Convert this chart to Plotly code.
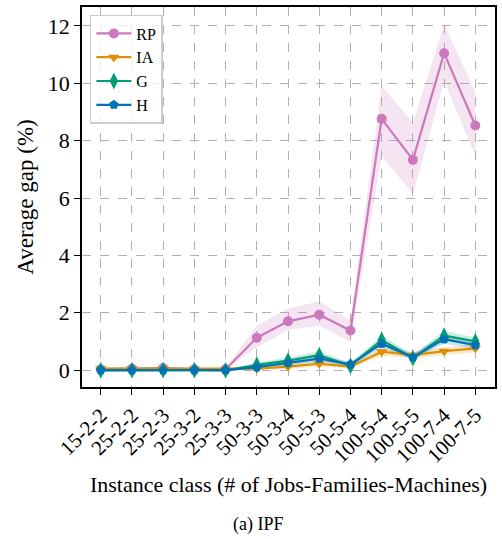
import plotly.graph_objects as go

categories = ["15-2-2", "25-2-2", "25-2-3", "25-3-2", "25-3-3", "50-3-3", "50-3-4",
              "50-5-3", "50-5-4", "100-5-4", "100-5-5", "100-7-4", "100-7-5"]

rp = [0.03, 0.05, 0.07, 0.03, 0.03, 1.13, 1.70, 1.93, 1.38, 8.76, 7.33, 11.05, 8.53]
rp_lo = [0.0, 0.01, 0.02, 0.0, 0.0, 0.80, 1.40, 1.55, 0.98, 7.47, 6.13, 10.07, 7.47]
rp_hi = [0.06, 0.10, 0.12, 0.06, 0.06, 1.55, 2.15, 2.40, 1.73, 9.90, 8.62, 12.06, 9.70]

ia = [0.05, 0.05, 0.05, 0.03, 0.03, 0.05, 0.12, 0.22, 0.12, 0.64, 0.52, 0.66, 0.76]
ia_lo = [0.02, 0.02, 0.02, 0.01, 0.01, 0.01, 0.05, 0.12, 0.06, 0.50, 0.42, 0.52, 0.62]
ia_hi = [0.08, 0.08, 0.08, 0.05, 0.05, 0.10, 0.20, 0.32, 0.18, 0.78, 0.62, 0.80, 0.90]

g = [-0.01, 0.0, 0.0, 0.0, -0.01, 0.18, 0.33, 0.52, 0.15, 1.05, 0.42, 1.20, 1.00]
g_lo = [-0.03, -0.02, -0.02, -0.02, -0.03, 0.10, 0.22, 0.38, 0.08, 0.88, 0.32, 1.02, 0.86]
g_hi = [0.01, 0.02, 0.02, 0.02, 0.01, 0.26, 0.44, 0.66, 0.24, 1.20, 0.55, 1.36, 1.14]

h = [0.0, 0.0, 0.0, 0.0, 0.0, 0.10, 0.25, 0.40, 0.20, 0.92, 0.45, 1.08, 0.87]
h_lo = [-0.02, -0.02, -0.02, -0.02, -0.02, 0.04, 0.16, 0.28, 0.12, 0.78, 0.36, 0.92, 0.74]
h_hi = [0.02, 0.02, 0.02, 0.02, 0.02, 0.16, 0.34, 0.52, 0.28, 1.06, 0.55, 1.24, 1.00]

series = [
    ("RP", rp, rp_lo, rp_hi, "#CC78BC", "rgba(204,120,188,0.2)", "circle"),
    ("IA", ia, ia_lo, ia_hi, "#DE8F05", "rgba(222,143,5,0.2)", "triangle-down"),
    ("G", g, g_lo, g_hi, "#029E73", "rgba(2,158,115,0.2)", "diamond-tall"),
    ("H", h, h_lo, h_hi, "#0173B2", "rgba(1,115,178,0.2)", "pentagon"),
]

xs = list(range(len(categories)))
fig = go.Figure()
for name, vals, lo, hi, col, fcol, sym in series:
    fig.add_trace(go.Scatter(
        x=xs + xs[::-1], y=hi + lo[::-1], fill="toself", fillcolor=fcol,
        line=dict(width=0), mode="lines", showlegend=False, hoverinfo="skip"))
for name, vals, lo, hi, col, fcol, sym in series:
    fig.add_trace(go.Scatter(
        x=xs, y=vals, name=name, mode="lines+markers",
        line=dict(color=col, width=2.2),
        marker=dict(symbol=sym, size=10 if sym != "diamond-tall" else 12, color=col,
                    line=dict(width=0))))

font = "Liberation Serif, Times New Roman, serif"
fig.update_layout(
    width=502, height=539,
    margin=dict(l=82, r=7, t=5, b=152),
    paper_bgcolor="white", plot_bgcolor="white",
    font=dict(family=font, color="black", size=18),
    showlegend=True,
    legend=dict(x=0.019, y=0.979, xanchor="left", yanchor="top",
                bgcolor="rgba(255,255,255,0.8)", bordercolor="#cccccc", borderwidth=1.5,
                font=dict(family=font, size=16), itemwidth=35, tracegroupgap=0),
    xaxis=dict(
        range=[-0.6, 12.63], tickmode="array", tickvals=xs, ticktext=categories,
        tickangle=-45, tickfont=dict(family=font, size=21),
        showgrid=True, gridcolor="#b0b0b0", griddash="dash", gridwidth=1,
        showline=True, linecolor="black", linewidth=1.5, mirror=True,
        ticks="outside", ticklen=6, tickcolor="black", zeroline=False,
        title=dict(text="Instance class (# of Jobs-Families-Machines)",
                   font=dict(family=font, size=22), standoff=10),
    ),
    yaxis=dict(
        range=[-0.59, 12.66], tickvals=[0, 2, 4, 6, 8, 10, 12],
        tickfont=dict(family=font, size=22),
        showgrid=True, gridcolor="#b0b0b0", griddash="dash", gridwidth=1,
        showline=True, linecolor="black", linewidth=1.5, mirror=True,
        ticks="outside", ticklen=6, tickcolor="black", zeroline=False,
        title=dict(text="Average gap (%)", font=dict(family=font, size=23), standoff=8),
    ),
)
fig.add_annotation(text="(a) IPF", xref="paper", yref="paper", x=(258 - 82) / 413,
                   y=-(525 - 387) / 382, xanchor="center", yanchor="middle",
                   showarrow=False, font=dict(family=font, size=18))
fig.write_html("out.html")
